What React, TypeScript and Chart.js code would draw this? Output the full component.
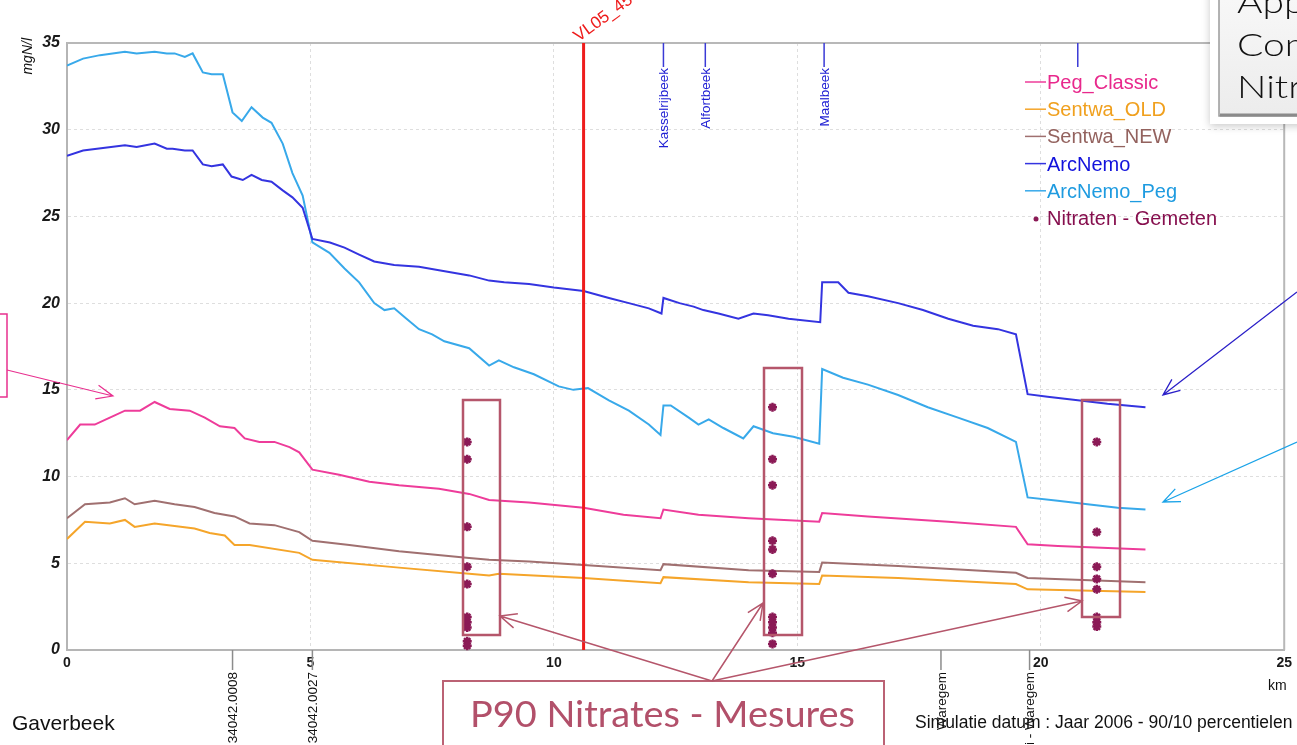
import React, { useEffect, useRef } from 'react';
import { Chart, registerables } from 'chart.js';
Chart.register(...registerables);

const FONT = 'Liberation Sans, Arial, sans-serif';
const DECO = 'Lato, "Noto Sans", sans-serif';

// x ticks (km) and y ticks (mgN/l)
const xTicks = [0, 5, 10, 15, 20, 25];
const yTicks = [0, 5, 10, 15, 20, 25, 30, 35];

const pegClassicKm = [0, 0.27, 0.57, 0.88, 1.19, 1.5, 1.8, 2.11, 2.52, 2.83, 3.14, 3.44, 3.65, 3.95, 4.26, 4.57, 4.77, 5.04, 5.59, 6.21, 6.82, 7.64, 8.26, 8.67, 9.49, 10.61, 11.43, 12.19, 12.25, 12.97, 14.0, 15.45, 15.51, 16.45, 18.1, 19.49, 19.73, 20.35, 22.15];
const pegClassic = [12.1, 13.0, 13.0, 13.4, 13.8, 13.8, 14.3, 13.9, 13.8, 13.4, 12.9, 12.8, 12.2, 12.0, 12.0, 11.7, 11.4, 10.4, 10.1, 9.7, 9.5, 9.3, 9.0, 8.65, 8.5, 8.2, 7.8, 7.6, 8.1, 7.8, 7.6, 7.4, 7.9, 7.7, 7.4, 7.1, 6.1, 6.0, 5.8];

const sentwaOldKm = [0, 0.37, 0.88, 1.19, 1.39, 1.8, 2.21, 2.62, 2.93, 3.24, 3.44, 3.75, 4.77, 5.04, 6.82, 8.26, 8.67, 8.87, 10.61, 12.19, 12.25, 14.0, 15.45, 15.51, 17.07, 19.49, 19.73, 22.15];
const sentwaOld = [6.4, 7.4, 7.3, 7.5, 7.1, 7.3, 7.15, 7.0, 6.75, 6.6, 6.05, 6.05, 5.6, 5.2, 4.75, 4.4, 4.3, 4.4, 4.15, 3.85, 4.2, 3.9, 3.8, 4.3, 4.15, 3.8, 3.5, 3.35];

const sentwaNewKm = [0, 0.37, 0.88, 1.19, 1.39, 1.8, 2.21, 2.62, 3.03, 3.44, 3.75, 4.26, 4.77, 5.04, 5.8, 6.82, 8.26, 8.67, 9.49, 10.61, 12.19, 12.25, 14.0, 15.45, 15.51, 17.07, 19.49, 19.73, 22.15];
const sentwaNew = [7.6, 8.4, 8.5, 8.75, 8.4, 8.6, 8.4, 8.25, 7.9, 7.7, 7.3, 7.2, 6.8, 6.3, 6.05, 5.7, 5.3, 5.2, 5.1, 4.9, 4.6, 4.95, 4.6, 4.5, 5.05, 4.85, 4.45, 4.15, 3.9];

const arcNemoKm = [0, 0.33, 1.19, 1.43, 1.8, 2.05, 2.17, 2.42, 2.58, 2.79, 2.97, 3.2, 3.38, 3.61, 3.79, 4.0, 4.2, 4.43, 4.63, 4.84, 5.04, 5.4, 5.7, 6.0, 6.31, 6.72, 7.23, 7.64, 8.26, 8.67, 8.98, 9.49, 10.0, 10.61, 11.13, 11.54, 11.95, 12.21, 12.25, 12.58, 12.87, 13.07, 13.38, 13.79, 14.1, 14.4, 14.82, 15.47, 15.51, 15.84, 16.05, 16.45, 17.07, 17.58, 18.1, 18.61, 19.12, 19.49, 19.73, 20.14, 20.76, 21.37, 22.15];
const arcNemo = [28.5, 28.8, 29.1, 29.0, 29.2, 28.9, 28.9, 28.8, 28.8, 28.0, 27.9, 28.0, 27.3, 27.1, 27.4, 27.1, 27.0, 26.5, 26.1, 25.5, 23.7, 23.5, 23.2, 22.8, 22.4, 22.2, 22.1, 21.9, 21.6, 21.3, 21.2, 21.1, 20.9, 20.7, 20.3, 20.0, 19.7, 19.4, 20.3, 20.0, 19.8, 19.6, 19.4, 19.1, 19.4, 19.3, 19.1, 18.9, 21.2, 21.2, 20.6, 20.4, 20.0, 19.6, 19.1, 18.7, 18.5, 18.2, 14.75, 14.6, 14.4, 14.2, 14.0];

const arcNemoPegKm = [0, 0.33, 0.68, 1.19, 1.43, 1.8, 2.05, 2.21, 2.42, 2.58, 2.79, 2.97, 3.2, 3.4, 3.59, 3.79, 4.02, 4.2, 4.43, 4.63, 4.84, 5.04, 5.39, 5.7, 6.0, 6.31, 6.52, 6.72, 6.93, 7.23, 7.5, 7.75, 8.26, 8.67, 8.87, 9.18, 9.59, 10.1, 10.4, 10.7, 11.13, 11.54, 11.95, 12.19, 12.25, 12.4, 12.77, 12.97, 13.18, 13.48, 13.89, 14.1, 14.5, 14.92, 15.45, 15.51, 15.94, 16.45, 17.07, 17.68, 18.3, 18.91, 19.49, 19.73, 20.35, 20.96, 21.58, 22.15];
const arcNemoPeg = [33.7, 34.1, 34.3, 34.5, 34.4, 34.5, 34.4, 34.4, 34.2, 34.4, 33.3, 33.2, 33.2, 31.0, 30.5, 31.3, 30.7, 30.4, 29.2, 27.5, 26.2, 23.5, 22.9, 22.0, 21.2, 20.0, 19.6, 19.7, 19.2, 18.5, 18.2, 17.8, 17.4, 16.4, 16.7, 16.3, 15.9, 15.2, 15.0, 15.1, 14.4, 13.8, 13.0, 12.4, 14.1, 14.1, 13.4, 13.0, 13.3, 12.8, 12.2, 12.9, 12.5, 12.3, 11.9, 16.2, 15.7, 15.3, 14.7, 14.0, 13.4, 12.8, 12.0, 8.8, 8.6, 8.4, 8.2, 8.1];

const nitrateKm = [8.22, 8.22, 8.22, 8.22, 8.22, 8.22, 8.22, 8.22, 8.22, 8.22, 14.49, 14.49, 14.49, 14.49, 14.49, 14.49, 14.49, 14.49, 14.49, 14.49, 14.49, 21.15, 21.15, 21.15, 21.15, 21.15, 21.15, 21.15, 21.15];
const nitrate = [12.0, 11.0, 7.1, 4.8, 3.8, 1.9, 1.6, 1.3, 0.5, 0.25, 14.0, 11.0, 9.5, 6.3, 5.8, 4.4, 1.9, 1.6, 1.3, 1.0, 0.35, 12.0, 6.8, 4.8, 4.1, 3.5, 1.9, 1.6, 1.35];

const sectionName = 'VL05_45';
const sectionKm = 10.61;
const tributaryNames = ['Kasselrijbeek', 'Alfortbeek', 'Maalbeek', ''];
const tributaryKm = [12.25, 13.11, 15.55, 20.76];
const stationNames = ['34042.0008', '34042.0027', 'Waregem', '2i - Waregem'];
const stationKm = [3.4, 5.04, 17.95, 19.77];

const legendOrder = ['Peg_Classic', 'Sentwa_OLD', 'Sentwa_NEW', 'ArcNemo', 'ArcNemo_Peg', 'Nitraten - Gemeten'];
const legendTextColors: Record<string, string> = {
  Peg_Classic: '#e8288c',
  Sentwa_OLD: '#f0a01e',
  Sentwa_NEW: '#93625e',
  ArcNemo: '#1212dc',
  ArcNemo_Peg: '#1e9be0',
  'Nitraten - Gemeten': '#860f4e',
};
const calloutLines = ['Application', 'Comparaison', 'Nitrates'];

const zip = (xs: number[], ys: number[]) => xs.map((x, i) => ({ x, y: ys[i] }));

function arrow(ctx: CanvasRenderingContext2D, x1: number, y1: number, x2: number, y2: number, color: string, w: number, head = 18, ang = 0.42) {
  ctx.save();
  ctx.strokeStyle = color;
  ctx.lineWidth = w;
  ctx.beginPath();
  ctx.moveTo(x1, y1);
  ctx.lineTo(x2, y2);
  const a = Math.atan2(y2 - y1, x2 - x1);
  ctx.moveTo(x2 - head * Math.cos(a - ang), y2 - head * Math.sin(a - ang));
  ctx.lineTo(x2, y2);
  ctx.lineTo(x2 - head * Math.cos(a + ang), y2 - head * Math.sin(a + ang));
  ctx.stroke();
  ctx.restore();
}

const overlay = {
  id: 'overlay',
  afterDatasetsDraw(chart: any) {
    const { ctx, chartArea } = chart;
    const { left, top, right, bottom } = chartArea;
    const xs = chart.scales.x;
    ctx.save();
    // frame top/right
    ctx.strokeStyle = '#b8b8b8';
    ctx.lineWidth = 2;
    ctx.beginPath();
    ctx.moveTo(left, top);
    ctx.lineTo(right, top);
    ctx.lineTo(right, bottom);
    ctx.stroke();

    // section line
    const rx = xs.getPixelForValue(sectionKm);
    ctx.strokeStyle = '#ee1c1c';
    ctx.lineWidth = 3;
    ctx.beginPath();
    ctx.moveTo(rx, top);
    ctx.lineTo(rx, bottom);
    ctx.stroke();
    ctx.save();
    ctx.translate(rx - 5, top - 1);
    ctx.rotate((-36 * Math.PI) / 180);
    ctx.fillStyle = '#ee1c1c';
    ctx.font = `17px ${FONT}`;
    ctx.textAlign = 'left';
    ctx.textBaseline = 'alphabetic';
    ctx.fillText(sectionName, 0, 0);
    ctx.restore();

    // tributaries
    tributaryKm.forEach((km, i) => {
      const tx = xs.getPixelForValue(km);
      ctx.strokeStyle = '#3a3ad6';
      ctx.lineWidth = 1.5;
      ctx.beginPath();
      ctx.moveTo(tx, top);
      ctx.lineTo(tx, top + 24);
      ctx.stroke();
      if (tributaryNames[i]) {
        ctx.save();
        ctx.translate(tx + 1, top + 25);
        ctx.rotate(-Math.PI / 2);
        ctx.fillStyle = '#2020d4';
        ctx.font = `13.5px ${FONT}`;
        ctx.textAlign = 'right';
        ctx.textBaseline = 'middle';
        ctx.fillText(tributaryNames[i], 0, 0);
        ctx.restore();
      }
    });

    // stations
    stationKm.forEach((km, i) => {
      const sx = xs.getPixelForValue(km);
      ctx.strokeStyle = '#8c8c8c';
      ctx.lineWidth = 1.5;
      ctx.beginPath();
      ctx.moveTo(sx, bottom);
      ctx.lineTo(sx, bottom + 20);
      ctx.stroke();
      ctx.save();
      ctx.translate(sx + 1, bottom + 22);
      ctx.rotate(-Math.PI / 2);
      ctx.fillStyle = '#111';
      ctx.font = `13.5px ${FONT}`;
      ctx.textAlign = 'right';
      ctx.textBaseline = 'middle';
      ctx.fillText(stationNames[i], 0, 0);
      ctx.restore();
    });
    ctx.restore();
  },
  afterDraw(chart: any) {
    const { ctx } = chart;
    ctx.save();

    // axis unit labels
    ctx.save();
    ctx.translate(28, 38);
    ctx.rotate(-Math.PI / 2);
    ctx.font = `italic 14px ${FONT}`;
    ctx.fillStyle = '#111';
    ctx.textAlign = 'right';
    ctx.textBaseline = 'middle';
    ctx.fillText('mgN/l', 0, 0);
    ctx.restore();

    ctx.font = `14px ${FONT}`;
    ctx.fillStyle = '#111';
    ctx.textAlign = 'left';
    ctx.textBaseline = 'alphabetic';
    ctx.fillText('km', 1268, 690);

    ctx.font = `21px ${FONT}`;
    ctx.fillStyle = '#111';
    ctx.fillText('Gaverbeek', 12, 730);

    ctx.font = `17.5px ${FONT}`;
    ctx.fillStyle = '#111';
    ctx.fillText('Simulatie datum : Jaar 2006 - 90/10 percentielen', 915, 728);

    // legend
    legendOrder.forEach((label, i) => {
      const ds = chart.data.datasets.find((d: any) => d.label === label);
      const base = 89 + i * 27.2;
      if (ds.showLine === false) {
        ctx.fillStyle = ds.borderColor;
        ctx.beginPath();
        ctx.arc(1036, base - 6, 2.5, 0, Math.PI * 2);
        ctx.fill();
      } else {
        ctx.strokeStyle = ds.borderColor;
        ctx.lineWidth = 1.5;
        ctx.beginPath();
        ctx.moveTo(1025, base - 7);
        ctx.lineTo(1046, base - 7);
        ctx.stroke();
      }
      ctx.fillStyle = legendTextColors[label];
      ctx.font = `20px ${FONT}`;
      ctx.textAlign = 'left';
      ctx.fillText(label, 1047, base);
    });

    // cluster boxes
    const rose = '#b5566b';
    ctx.strokeStyle = rose;
    ctx.lineWidth = 2.5;
    ctx.strokeRect(463, 400, 37, 235);
    ctx.strokeRect(764, 368, 38, 267);
    ctx.strokeRect(1082, 400, 38, 217);

    // P90 box
    ctx.fillStyle = '#fff';
    ctx.fillRect(443, 681, 441, 80);
    ctx.strokeStyle = '#bb6274';
    ctx.lineWidth = 2;
    ctx.strokeRect(443, 681, 441, 80);
    ctx.save();
    ctx.font = `36px ${DECO}`;
    const t = 'P90 Nitrates - Mesures';
    const w = ctx.measureText(t).width;
    ctx.translate(470, 727);
    ctx.scale(385 / w, 1);
    ctx.fillStyle = '#b2506a';
    ctx.textAlign = 'left';
    ctx.fillText(t, 0, 0);
    ctx.restore();
    arrow(ctx, 712, 681, 500, 616, rose, 1.5);
    arrow(ctx, 712, 681, 763, 603, rose, 1.5);
    arrow(ctx, 712, 681, 1082, 601, rose, 1.5);

    // pink side annotation
    ctx.strokeStyle = '#e8308f';
    ctx.lineWidth = 1.5;
    ctx.beginPath();
    ctx.moveTo(0, 314);
    ctx.lineTo(7, 314);
    ctx.lineTo(7, 397);
    ctx.lineTo(0, 397);
    ctx.stroke();
    arrow(ctx, 7, 370, 113, 396, '#e8308f', 1.2, 18, 0.4);

    // blue arrows
    arrow(ctx, 1297, 292, 1163, 395, '#2a1fc8', 1.3, 18, 0.4);
    arrow(ctx, 1297, 442, 1163, 502, '#1aa3e8', 1.3, 18, 0.4);

    // callout panel top-right
    ctx.save();
    ctx.shadowColor = 'rgba(0,0,0,0.22)';
    ctx.shadowBlur = 8;
    ctx.shadowOffsetY = 2;
    ctx.fillStyle = '#ffffff';
    ctx.fillRect(1210, -10, 100, 134);
    ctx.restore();
    const g = ctx.createLinearGradient(0, 0, 0, 116);
    g.addColorStop(0, '#f7f7f7');
    g.addColorStop(1, '#ececec');
    ctx.fillStyle = g;
    ctx.fillRect(1219, -10, 90, 126);
    ctx.strokeStyle = '#9a9a9a';
    ctx.lineWidth = 1.5;
    ctx.strokeRect(1219, -10, 90, 126);
    ctx.strokeStyle = '#8a8a8a';
    ctx.lineWidth = 3;
    ctx.beginPath();
    ctx.moveTo(1220, 115);
    ctx.lineTo(1297, 115);
    ctx.stroke();
    ctx.fillStyle = '#111';
    ctx.font = `300 32px ${DECO}`;
    ctx.textAlign = 'left';
    calloutLines.forEach((s, i) => {
      ctx.save();
      ctx.translate(1237, 13 + i * 42.5);
      ctx.scale(1.22, 1);
      ctx.fillText(s, 0, 0);
      ctx.restore();
    });

    ctx.restore();
  },
};

export default function App() {
  const ref = useRef<HTMLCanvasElement>(null);
  useEffect(() => {
    const gridCommon = { color: '#dedede', lineWidth: 1, drawTicks: false };
    const borderCommon = { display: true, color: '#b5b5b5', width: 2, dash: [3, 3] };
    const line = (label: string, xs: number[], ys: number[], color: string) => ({
      type: 'line' as const,
      label,
      data: zip(xs, ys),
      borderColor: color,
      backgroundColor: color,
      borderWidth: 2,
      pointRadius: 0,
      tension: 0,
      fill: false,
    });
    const chart = new Chart(ref.current as HTMLCanvasElement, {
      type: 'line',
      data: {
        datasets: [
          {
            type: 'scatter',
            label: 'Nitraten - Gemeten',
            data: zip(nitrateKm, nitrate),
            showLine: false,
            pointStyle: 'star',
            pointRadius: 4.5,
            borderWidth: 2.5,
            borderColor: '#8b1a56',
            backgroundColor: '#8b1a56',
            clip: false,
          } as any,
          line('Peg_Classic', pegClassicKm, pegClassic, '#ee3c9a'),
          line('Sentwa_NEW', sentwaNewKm, sentwaNew, '#a07070'),
          line('Sentwa_OLD', sentwaOldKm, sentwaOld, '#f5a52a'),
          line('ArcNemo', arcNemoKm, arcNemo, '#3434e0'),
          line('ArcNemo_Peg', arcNemoPegKm, arcNemoPeg, '#38a9ea'),
        ],
      },
      options: {
        responsive: false,
        animation: false,
        layout: { padding: { top: 43, right: 9, left: 0, bottom: 0 } },
        plugins: { legend: { display: false }, tooltip: { enabled: false } },
        scales: {
          x: {
            type: 'linear',
            min: 0,
            max: 25,
            afterFit: (s: any) => {
              s.height = 95;
            },
            afterBuildTicks: (s: any) => {
              s.ticks = xTicks.map((v) => ({ value: v }));
            },
            ticks: { font: { family: FONT, size: 14, weight: 'bold' }, color: '#1a1a1a', padding: 5, maxRotation: 0, autoSkip: false },
            grid: gridCommon,
            border: borderCommon,
          },
          y: {
            type: 'linear',
            min: 0,
            max: 35,
            afterFit: (s: any) => {
              s.width = 67;
            },
            afterBuildTicks: (s: any) => {
              s.ticks = yTicks.map((v) => ({ value: v }));
            },
            ticks: { font: { family: FONT, size: 16, style: 'italic', weight: 'bold' }, color: '#1a1a1a', padding: 7 },
            grid: gridCommon,
            border: borderCommon,
          },
        },
      } as any,
      plugins: [overlay],
    });
    return () => chart.destroy();
  }, []);
  return (
    <div style={{ position: 'fixed', left: 0, top: 0, width: 1297, height: 745, background: '#fff', overflow: 'hidden' }}>
      <canvas ref={ref} width={1297} height={745} style={{ display: 'block' }} />
    </div>
  );
}
